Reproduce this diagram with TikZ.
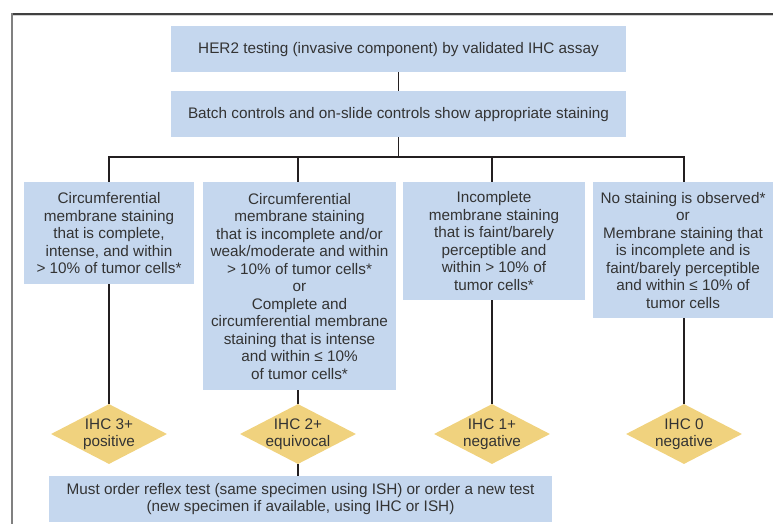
\documentclass[tikz,border=0pt]{standalone}
\usepackage{fontspec}
\setmainfont{Liberation Sans}
\usetikzlibrary{shapes.geometric,backgrounds}
\definecolor{boxblue}{HTML}{C5D7EE}
\definecolor{diagold}{HTML}{F0D27E}
\definecolor{txt}{HTML}{333333}
\definecolor{lin}{HTML}{231F20}
\begin{document}
\begin{tikzpicture}[x=1pt,y=-1pt,
  box/.style={fill=boxblue, draw=none, align=center, inner sep=0pt, text=txt,
    font=\fontsize{15.3}{17.5}\selectfont},
  dia/.style={diamond, fill=diagold, draw=none, inner sep=0pt,
    minimum width=116pt, minimum height=60pt},
  lab/.style={text=txt, align=center, inner sep=0pt,
    font=\fontsize{15.3}{17.5}\selectfont},
  conn/.style={draw=lin, line width=1.6pt}]
\useasboundingbox (0,0) rectangle (773,524);
% frame
\draw[draw=black!75, line width=1.2pt] (11.4,14) -- (773,14);
\draw[draw=black!18, line width=0.9pt] (12.6,15.4) -- (773,15.4);
\draw[draw=black!50, line width=1.3pt] (12,13.4) -- (12,524);
% top boxes
\node[box, minimum width=455pt, minimum height=46pt, anchor=north] (t1) at (398.5,26)
  {HER2 testing (invasive component) by validated IHC assay};
\node[box, minimum width=455pt, minimum height=46pt, anchor=north] (t2) at (398.5,91)
  {Batch controls and on-slide controls show appropriate staining};
\coordinate (bus) at (398.5,157);
% column boxes
\node[box, minimum width=170pt, minimum height=102pt, anchor=north] (bA) at (109,182)
  {Circumferential\\membrane staining\\that is complete,\\intense, and within\\> 10\% of tumor cells*};
\node[box, minimum width=193pt, minimum height=208pt, anchor=north] (bB) at (299.5,182)
  {Circumferential\\membrane staining\\that is incomplete and/or\\weak/moderate and within\\> 10\% of tumor cells*\\or\\Complete and\\circumferential membrane\\staining that is intense\\and within ≤ 10\%\\of tumor cells*};
\node[box, minimum width=182pt, minimum height=118pt, anchor=north] (bC) at (494,182)
  {Incomplete\\membrane staining\\that is faint/barely\\perceptible and\\within > 10\% of\\tumor cells*};
\node[box, minimum width=180pt, minimum height=136pt, anchor=north] (bD) at (683,182)
  {No staining is observed*\\or\\Membrane staining that\\is incomplete and is\\faint/barely perceptible\\and within ≤ 10\% of\\tumor cells};
% diamonds
\node[dia, label={[lab]center:{IHC 3+\\positive}}] (dA) at (109,434) {};
\node[dia, label={[lab]center:{IHC 2+\\equivocal}}] (dB) at (298,434) {};
\node[dia, label={[lab]center:{IHC 1+\\negative}}] (dC) at (492,434) {};
\node[dia, label={[lab]center:{IHC 0\\negative}}] (dD) at (684,434) {};
% bottom box
\node[box, minimum width=503pt, minimum height=46pt, anchor=north] (bot) at (300.5,476)
  {Must order reflex test (same specimen using ISH) or order a new test\\(new specimen if available, using IHC or ISH)};
% connectors
\begin{scope}[on background layer]
\draw[conn] (t1.south) -- (t2.north);
\draw[conn] (t2.south) -- (bus);
\draw[conn] (dA.north) |- (bus);
\draw[conn] (dB.north) |- (bus);
\draw[conn] (dC.north) |- (bus);
\draw[conn] (dD.north) |- (bus);
\draw[conn] (dB.south) -- (dB.south |- bot.north);
\end{scope}
\end{tikzpicture}
\end{document}
